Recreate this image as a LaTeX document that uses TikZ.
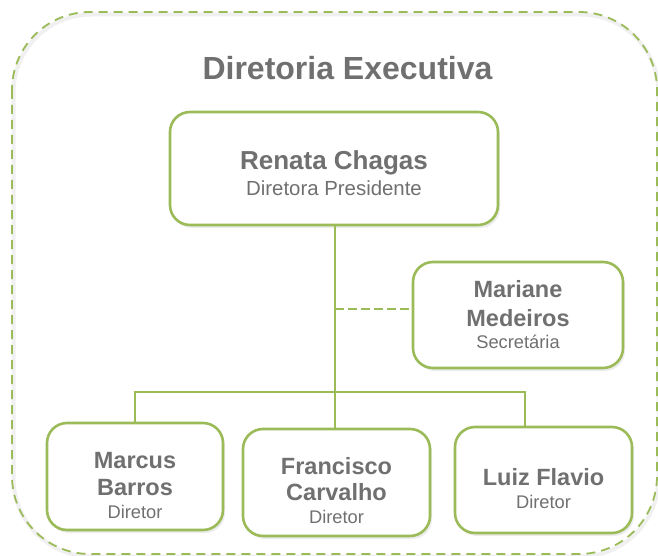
\documentclass[tikz,border=0pt]{standalone}
\usepackage{fontspec}
\setmainfont{Liberation Sans}
\usetikzlibrary{shadows}
\definecolor{lgreen}{HTML}{9BBB59}
\definecolor{tgray}{HTML}{707070}
\tikzset{
  box/.style={draw=lgreen, line width=2.6pt, rounded corners=20pt, fill=white,
    drop shadow={opacity=0.15, shadow xshift=2pt, shadow yshift=-3pt}},
  conn/.style={draw=lgreen, line width=2.8pt},
  namet/.style={text=tgray, font=\bfseries\fontsize{23.5}{27}\selectfont, anchor=base, inner sep=0pt},
  bignamet/.style={text=tgray, font=\bfseries\fontsize{26}{30}\selectfont, anchor=base, inner sep=0pt},
  rolet/.style={text=tgray, font=\fontsize{18.3}{22}\selectfont, anchor=base, inner sep=0pt},
  bigrolet/.style={text=tgray, font=\fontsize{20.4}{24}\selectfont, anchor=base, inner sep=0pt},
}
\begin{document}
\begin{tikzpicture}[x=1pt, y=-1pt]
\useasboundingbox (0,0) rectangle (658,556);
% outer frame (faint shadow, then dashed border)
\draw[black, opacity=0.06, line width=4pt, rounded corners=78pt]
  (13.5,14.5) rectangle (658.5,556.5);
\draw[lgreen, line width=1.8pt, dash pattern=on 9pt off 6pt, rounded corners=78pt]
  (12,12) rectangle (657,554);
\node[text=tgray, font=\bfseries\fontsize{32}{36}\selectfont, anchor=base, inner sep=0pt] (title) at (347.5,80) {Diretoria Executiva};
% boxes
\node[box, minimum width=328pt, minimum height=113pt] (r) at (334,168.5) {};
\node[box, minimum width=210pt, minimum height=106pt] (s) at (518,315) {};
\node[box, minimum width=176pt, minimum height=107pt] (m) at (135,476.5) {};
\node[box, minimum width=187pt, minimum height=107pt] (f) at (336.5,482.5) {};
\node[box, minimum width=177pt, minimum height=106pt] (l) at (543.5,480) {};
% connectors
\coordinate (sj) at (335,309);
\coordinate (bus) at (335,392);
\coordinate (ld) at (525,392);
\draw[conn] (r.south -| bus) -- (bus |- f.north);
\draw[conn] (m.north) |- (ld) -- (ld |- l.north);
\draw[conn, dash pattern=on 9pt off 4pt] (sj) -- (sj -| s.west);
% texts
\node[bignamet] (r1) at (334,170) {Renata Chagas};
\node[bigrolet] (r2) at (334,196) {Diretora Presidente};
\node[namet] (s1) at (518,297) {Mariane};
\node[namet] (s2) at (518,326) {Medeiros};
\node[rolet] (s3) at (518,348) {Secretária};
\node[namet] (m1) at (135,468) {Marcus};
\node[namet] (m2) at (135,495) {Barros};
\node[rolet] (m3) at (135,518) {Diretor};
\node[namet] (f1) at (336.5,474) {Francisco};
\node[namet] (f2) at (336.5,500) {Carvalho};
\node[rolet] (f3) at (336.5,523) {Diretor};
\node[namet] (l1) at (543.5,485) {Luiz Flavio};
\node[rolet] (l2) at (543.5,508) {Diretor};
\end{tikzpicture}
\end{document}
